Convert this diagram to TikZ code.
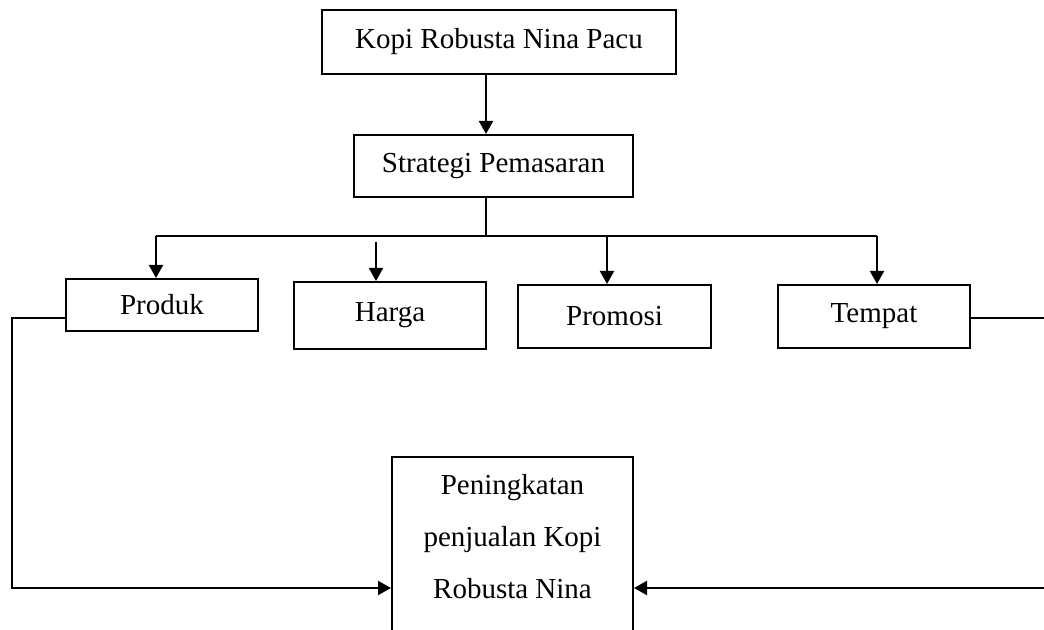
\documentclass[tikz,border=0pt]{standalone}
\usepackage{fontspec}
\setmainfont{Liberation Serif}
\usetikzlibrary{arrows.meta}

\tikzset{
  kotak/.style={draw,line width=1pt,inner sep=0pt,align=center,
    font=\fontsize{14.5}{26}\selectfont},
  garis/.style={line width=1pt},
  panah/.style={line width=1pt,-{Triangle[length=6.5pt,width=7pt]}}
}

\begin{document}
\begin{tikzpicture}[x=0.5pt,y=-0.5pt]
            \useasboundingbox (0,0) rectangle (1044,630);
            \clip (0,0) rectangle (1044,630);
            \node[kotak,minimum width=177pt,minimum height=32pt] (kopi) at (499,42) {Kopi Robusta Nina Pacu};
            \node[kotak,minimum width=139.5pt,minimum height=31pt] (strategi) at (493.5,166) {Strategi Pemasaran};
            \node[kotak,minimum width=96pt,minimum height=26pt] (produk) at (162,305) {Produk};
            \node[kotak,minimum width=96pt,minimum height=33.5pt] (harga) at (390,315.5) {Harga};
            \node[kotak,minimum width=96.5pt,minimum height=31.5pt] (promosi) at (614.5,316.5) {Promosi};
            \node[kotak,minimum width=96pt,minimum height=31.5pt] (tempat) at (874,316.5) {Tempat};
            \node[kotak,anchor=north,minimum width=120.5pt,minimum height=105pt] (hasil) at (512.5,456) {Peningkatan\\penjualan Kopi\\Robusta Nina\\\mbox{}};
            \coordinate (tengah) at (486,236);
            \draw[panah] (tengah |- kopi.south) -- (tengah |- strategi.north);
            \draw[garis] (tengah |- strategi.south) -- (tengah);
            \draw[garis] (156,236) -- (877,236);
            \draw[panah] (156,236) -- (156,0 |- produk.north);
            \draw[panah] (376,242) -- (376,0 |- harga.north);
            \draw[panah] (607,236) -- (607,0 |- promosi.north);
            \draw[panah] (877,236) -- (877,0 |- tempat.north);
            \draw[panah] (produk.west |- 0,318) -| (12,588) -- (hasil.west |- 0,588);
            \draw[panah] (tempat.east |- 0,318) -| (1052,588) -- (hasil.east |- 0,588);
        \end{tikzpicture}
\end{document}
